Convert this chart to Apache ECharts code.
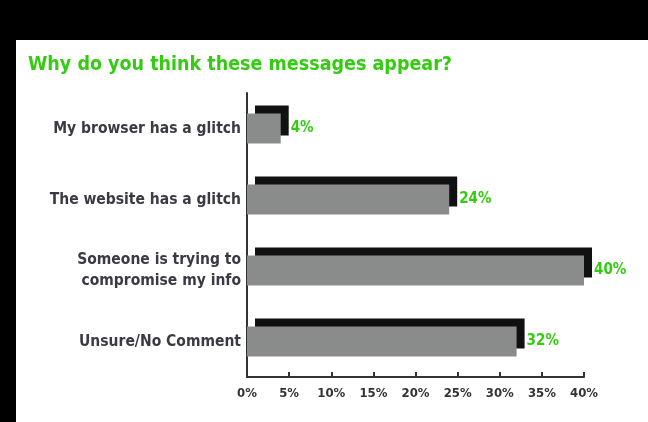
<!DOCTYPE html>
<html>
<head>
<meta charset="utf-8">
<script src="https://cdn.jsdelivr.net/npm/echarts@6/dist/echarts.min.js"></script>
<style>
html,body{margin:0;padding:0;background:#fff;}
#c{width:648px;height:422px;}
</style>
</head>
<body>
<div id="c"></div>
<script>
const titleText = 'Why do you think these messages appear?';
const categories = [
  'My browser has a glitch',
  'The website has a glitch',
  'Someone is trying to\ncompromise my info',
  'Unsure/No Comment'
];
const values = [4, 24, 40, 32];
const tickMin = 0, tickMax = 40, tickStep = 5;

const FONT = '"DejaVu Sans Condensed", "Liberation Sans Narrow", sans-serif';
const chart = echarts.init(document.getElementById('c'), null, {renderer: 'canvas'});
chart.setOption({
  backgroundColor: '#ffffff',
  animation: false,
  graphic: [
    {type: 'rect', left: 0, top: 0, shape: {width: 648, height: 40}, style: {fill: '#000'}, z: 100},
    {type: 'rect', left: 0, top: 0, shape: {width: 16, height: 422}, style: {fill: '#000'}, z: 100}
  ],
  title: {
    text: titleText,
    left: 23, top: 50,
    textStyle: {color: '#33cc11', fontFamily: FONT, fontWeight: 'bold', fontSize: 19.5}
  },
  grid: {left: 247, right: 64, top: 93, bottom: 45},
  xAxis: {
    type: 'value', min: tickMin, max: tickMax, interval: tickStep,
    axisLine: {show: true, lineStyle: {color: '#333', width: 2}},
    axisTick: {show: true, inside: true, length: 5, lineStyle: {color: '#333', width: 2}},
    splitLine: {show: false},
    axisLabel: {formatter: '{value}%', color: '#333', fontFamily: FONT, fontWeight: 'bold', fontSize: 13, margin: 10}
  },
  yAxis: {
    type: 'category', data: categories, inverse: true,
    axisLine: {show: true, lineStyle: {color: '#333', width: 2}},
    axisTick: {show: false},
    axisLabel: {color: '#3a3a44', fontFamily: FONT, fontWeight: 'bold', fontSize: 15.5, lineHeight: 21, margin: 6, align: 'right'}
  },
  series: [{
    type: 'bar',
    data: values,
    barWidth: 30,
    itemStyle: {
      color: '#8a8c8c',
      shadowColor: '#111111', shadowBlur: 0, shadowOffsetX: 8, shadowOffsetY: -8
    },
    label: {
      show: true, position: 'right', distance: 10, formatter: '{c}%',
      color: '#33cc11', fontFamily: FONT, fontWeight: 'bold', fontSize: 15
    }
  }]
});
</script>
</body>
</html>
